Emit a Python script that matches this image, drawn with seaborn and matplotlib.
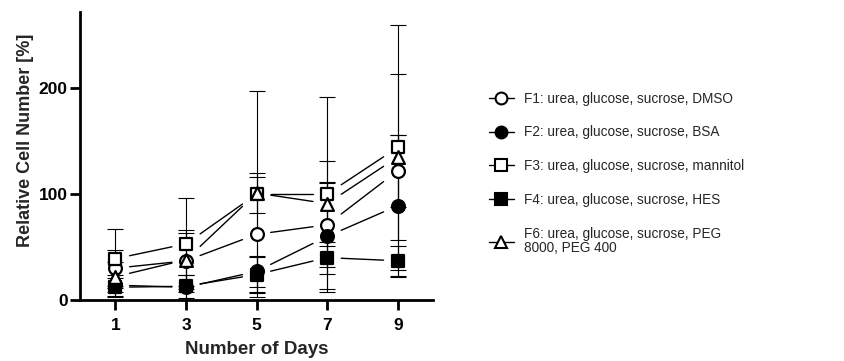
import numpy as np
import pandas as pd
import matplotlib
matplotlib.use("Agg")
import matplotlib.pyplot as plt
from matplotlib.lines import Line2D
import seaborn as sns

days = [1, 3, 5, 7, 9]
labels = ["F1: urea, glucose, sucrose, DMSO",
          "F2: urea, glucose, sucrose, BSA",
          "F3: urea, glucose, sucrose, mannitol",
          "F4: urea, glucose, sucrose, HES",
          "F6: urea, glucose, sucrose, PEG\n8000, PEG 400"]

f1_mean = [30, 37, 62, 71, 122]
f1_sd = [17, 29, 54, 40, 34]
f2_mean = [14, 12, 27, 60, 89]
f2_sd = [10, 12, 15, 50, 67]
f3_mean = [39, 53, 100, 100, 144]
f3_sd = [28, 43, 97, 92, 116]
f4_mean = [12, 13, 24, 40, 37]
f4_sd = [9, 11, 17, 15, 14]
f6_mean = [22, 38, 101, 91, 135]
f6_sd = [14, 25, 19, 40, 78]

means = [f1_mean, f2_mean, f3_mean, f4_mean, f6_mean]
sds = [f1_sd, f2_sd, f3_sd, f4_sd, f6_sd]
markers = ["o", "o", "s", "s", "^"]
faces = ["white", "black", "white", "black", "white"]

sns.set_theme(style="ticks")
plt.rcParams["font.family"] = ["Liberation Sans", "DejaVu Sans"]

fig = plt.figure(figsize=(8.44, 3.61), dpi=100)
ax = fig.add_axes([0.095, 0.169, 0.418, 0.798])

gap = 0.2
for i, lab in enumerate(labels):
    df = pd.DataFrame({"day": days, "val": means[i], "sd": sds[i]})
    ax.errorbar(df["day"], df["val"], yerr=df["sd"], fmt="none", ecolor="black",
                elinewidth=0.8, capsize=5.5, capthick=0.8, zorder=1)
    # gapped connecting segments, GraphPad style
    for k in range(len(df) - 1):
        x0, x1 = df["day"][k], df["day"][k + 1]
        y0, y1 = df["val"][k], df["val"][k + 1]
        xs = [x0 + gap * (x1 - x0), x1 - gap * (x1 - x0)]
        ys = [y0 + gap * (y1 - y0), y1 - gap * (y1 - y0)]
        ax.plot(xs, ys, color="black", lw=1.0, zorder=2)
    sns.scatterplot(data=df, x="day", y="val", marker=markers[i], s=85,
                    color=faces[i], edgecolor="black", linewidth=1.6,
                    zorder=3 + i, ax=ax, legend=False)

ax.set_xlim(0, 10)
ax.set_ylim(0, 272)
ax.set_xticks(days)
ax.set_yticks([0, 100, 200])
ax.set_xlabel("Number of Days", fontsize=13.5, fontweight="bold", labelpad=6)
ax.set_ylabel("Relative Cell Number [%]", fontsize=13, fontweight="bold")
ax.yaxis.set_label_coords(-0.13, 0.555)
for t in ax.get_xticklabels() + ax.get_yticklabels():
    t.set_fontweight("bold")
ax.tick_params(labelsize=12.5, width=2, length=7, pad=2, color="black", labelcolor="black")
ax.tick_params(axis="x", pad=6)
for side in ["left", "bottom"]:
    ax.spines[side].set_linewidth(2)
    ax.spines[side].set_color("black")
sns.despine(ax=ax)

handles = [Line2D([], [], color="black", lw=1.0, marker=m, markersize=8.5,
                  markerfacecolor=fc, markeredgecolor="black", markeredgewidth=1.5)
           for m, fc in zip(markers, faces)]
leg = fig.legend(handles, labels, loc="upper left", bbox_to_anchor=(0.565, 0.78),
                 frameon=False, fontsize=9.8, handlelength=1.8, handletextpad=0.8,
                 labelspacing=1.45)
for t in leg.get_texts():
    t.set_linespacing(1.05)

fig.savefig("out.png", dpi=100)
